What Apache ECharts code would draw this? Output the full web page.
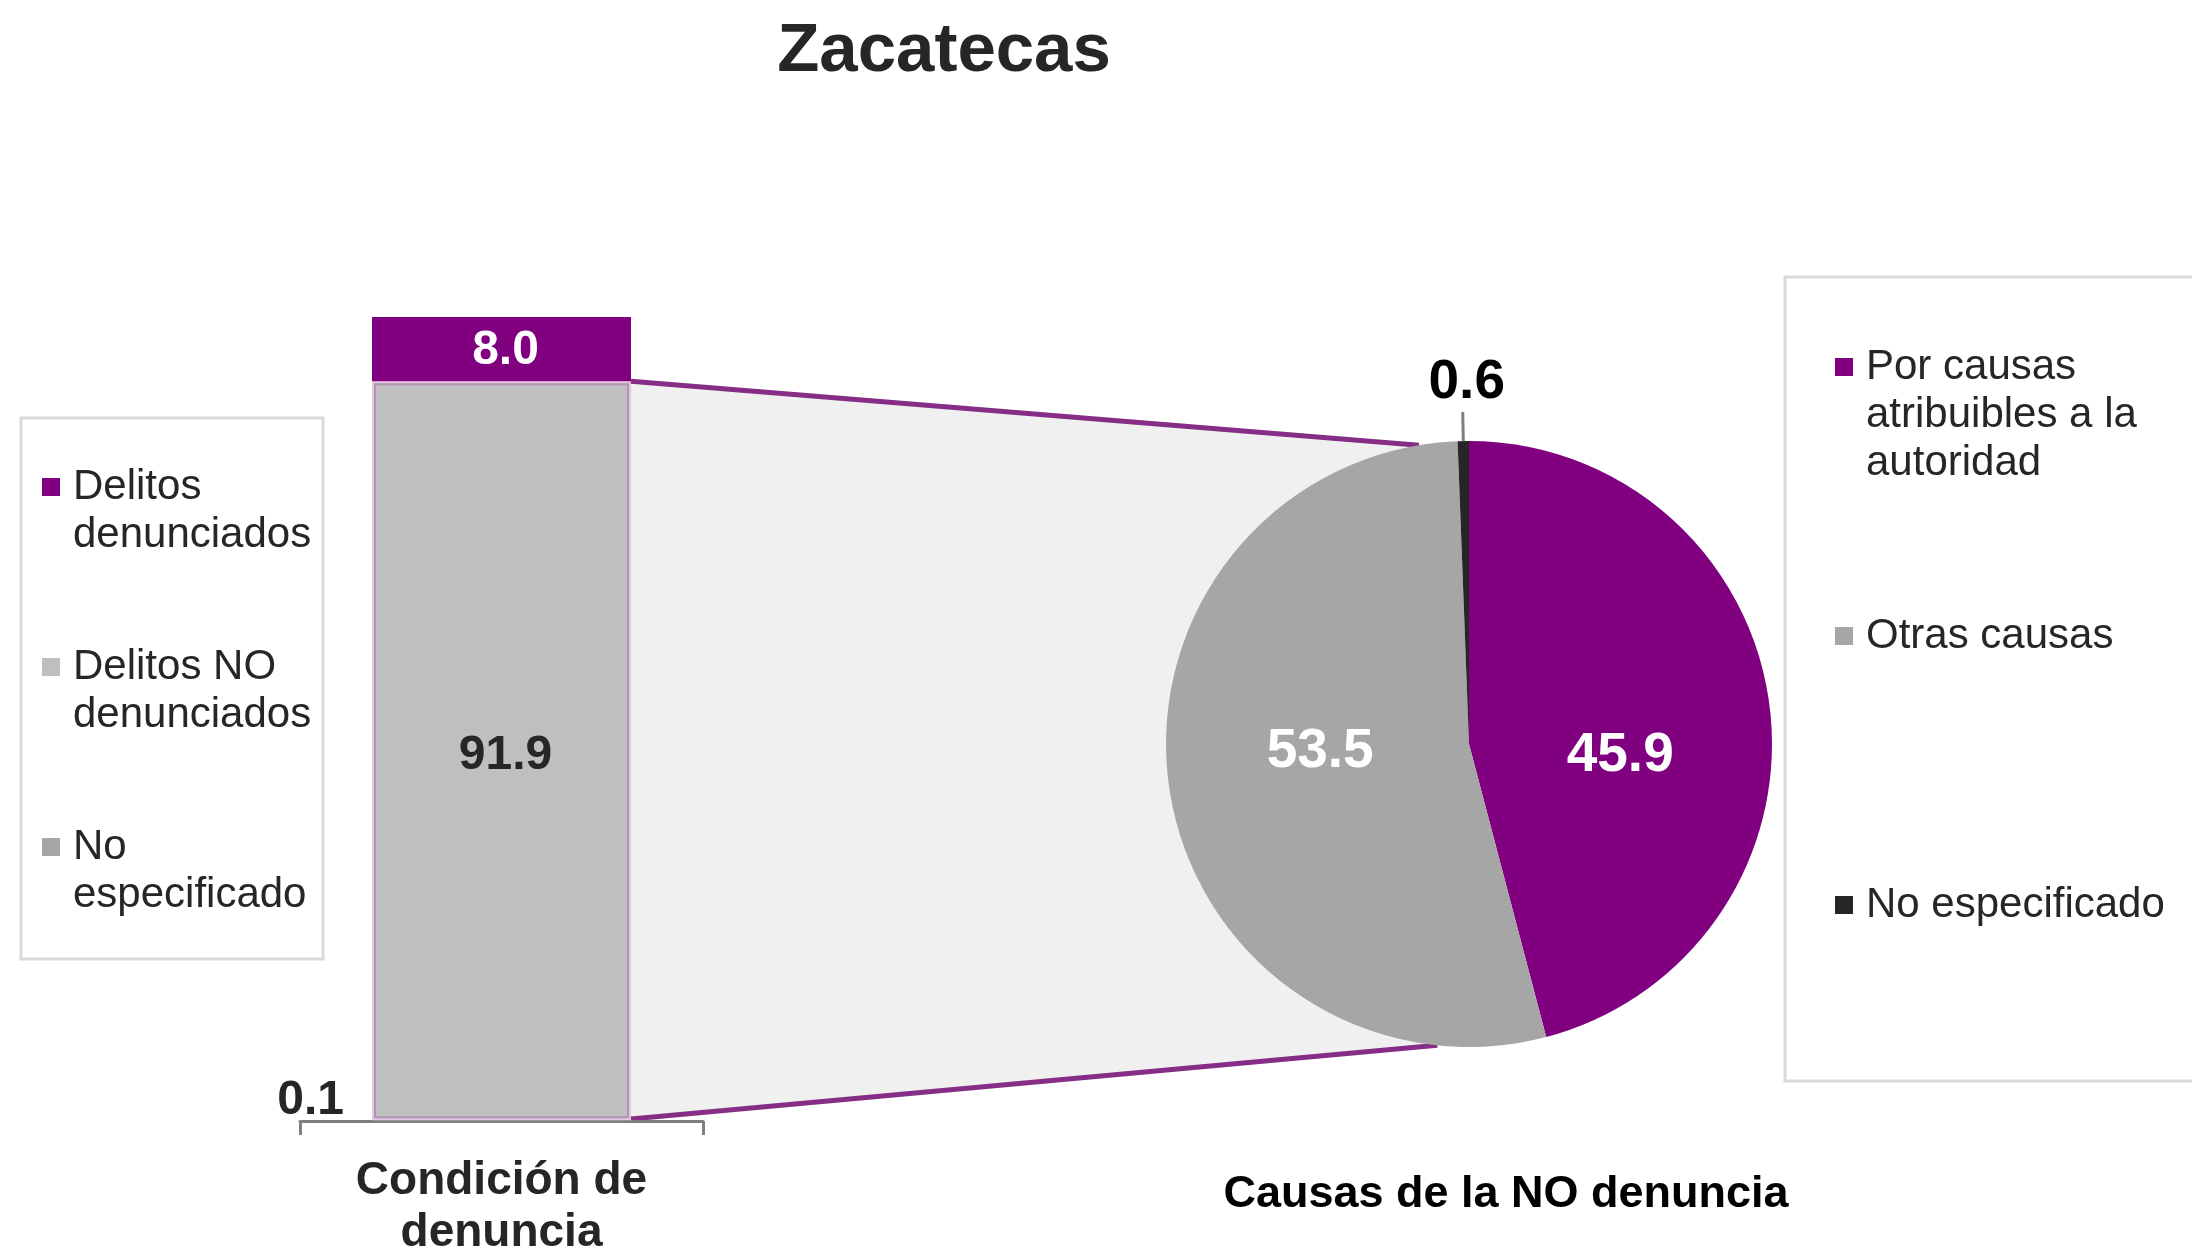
<!DOCTYPE html>
<html>
<head>
<meta charset="utf-8">
<script src="https://cdn.jsdelivr.net/npm/echarts@6/dist/echarts.min.js"></script>
<style>
  html, body { margin: 0; padding: 0; background: #fff; }
  #chart { width: 2192px; height: 1254px; }
</style>
</head>
<body>
<div id="chart"></div>
<script>
// bar: condición de denuncia (top to bottom of the stack)
const barCategories = ['Condición de\ndenuncia'];
const barNames = ['Delitos\ndenunciados', 'Delitos NO\ndenunciados', 'No\nespecificado'];
const barValues = [8.0, 91.9, 0.1];
const barColors = ['#800080', '#bfbfbf', '#a6a6a6'];

// pie: causas de la NO denuncia
const pieNames = ['Por causas\natribuibles a la\nautoridad', 'Otras causas', 'No especificado'];
const pieValues = [45.9, 53.5, 0.6];
const pieColors = ['#800080', '#a6a6a6', '#262626'];

const FONT = '"Liberation Sans", Arial, sans-serif';
const TEXT = '#262626';
const LINE_H = 48;
const BAR_W = 259;
const PIE_CENTER = [1469, 744];
const PIE_R = 303;
// where the connectors touch the pie, degrees left of vertical
const JOIN_TOP = 9.5;
const JOIN_BOTTOM = 6;

// pad legend text with blank lines so the marker sits on the first line
function legendFormatter(names) {
  const maxLines = Math.max(...names.map((n) => n.split('\n').length));
  return (name) => {
    const n = name.split('\n').length;
    return '\n'.repeat(maxLines - 1) + name + '\n'.repeat(maxLines - n);
  };
}

const legendText = {
  fontFamily: FONT,
  fontSize: 42,
  lineHeight: LINE_H,
  color: TEXT,
  padding: [0, 0, 0, 8],
};

// stack from the bottom: No especificado, NO denunciados, denunciados
const stackOrder = [2, 1, 0];
const barSeries = stackOrder.map((i) => {
  const label = {
    show: true,
    position: 'inside',
    fontFamily: FONT,
    fontSize: 48,
    fontWeight: 'bold',
    color: i === 0 ? '#fff' : TEXT,
    offset: i === 1 ? [4, 5] : [4, 2],
    formatter: (p) => p.value.toFixed(1),
  };
  if (i === 2) {
    label.position = 'left';
    label.distance = 28;
    label.offset = [0, -20];
  }
  return {
    name: barNames[i],
    type: 'bar',
    stack: 'denuncia',
    barWidth: BAR_W,
    data: [barValues[i]],
    itemStyle: i === 1
      ? { color: barColors[i], borderColor: 'rgba(128,0,128,0.22)', borderWidth: 4 }
      : { color: barColors[i] },
    label,
    silent: true,
  };
});

const pieSeries = {
  type: 'pie',
  center: PIE_CENTER,
  radius: PIE_R,
  startAngle: 90,
  clockwise: true,
  avoidLabelOverlap: false,
  silent: true,
  label: {
    show: true,
    position: 'inside',
    fontFamily: FONT,
    fontSize: 55,
    fontWeight: 'bold',
    color: '#fff',
    formatter: (p) => p.value.toFixed(1),
  },
  labelLine: { show: false },
  labelLayout: (p) => {
    if (p.dataIndex !== 2) return {};
    const end = p.labelLinePoints[1];
    return {
      x: end[0] + 4,
      y: end[1] - 2,
      align: 'center',
      verticalAlign: 'bottom',
      labelLinePoints: p.labelLinePoints,
    };
  },
  data: pieNames.map((name, i) => {
    const item = { name, value: pieValues[i], itemStyle: { color: pieColors[i] } };
    if (i === 0) item.label = { offset: [-2, 32] };
    if (i === 1) item.label = { offset: [4, -15] };
    if (i === 2) {
      item.label = { position: 'outside', color: '#000', distance: 0 };
      item.labelLine = {
        show: true,
        length: 29,
        length2: 0,
        lineStyle: { color: '#7f7f7f', width: 3 },
      };
    }
    return item;
  }),
};

const option = {
  backgroundColor: '#fff',
  animation: false,
  title: [
    {
      text: 'Zacatecas',
      left: 944,
      top: 17,
      textAlign: 'center',
      padding: 0,
      textStyle: { fontFamily: FONT, fontSize: 69, fontWeight: 'bold', color: TEXT },
    },
    {
      text: 'Causas de la NO denuncia',
      left: 1506,
      top: 1172,
      textAlign: 'center',
      padding: 0,
      textStyle: { fontFamily: FONT, fontSize: 45, fontWeight: 'bold', color: '#000' },
    },
  ],
  legend: [
    {
      orient: 'vertical',
      left: 42,
      top: 415,
      padding: 0,
      itemGap: 36,
      itemWidth: 18,
      itemHeight: 18,
      icon: 'rect',
      selectedMode: false,
      itemStyle: { borderWidth: 0 },
      textStyle: legendText,
      formatter: legendFormatter(barNames),
      data: barNames,
    },
    {
      orient: 'vertical',
      left: 1835,
      top: 247,
      padding: 0,
      itemGap: 29,
      itemWidth: 18,
      itemHeight: 18,
      icon: 'rect',
      selectedMode: false,
      itemStyle: { borderWidth: 0 },
      textStyle: legendText,
      formatter: legendFormatter(pieNames),
      data: pieNames,
    },
  ],
  grid: { left: 300, top: 317, width: 403, height: 804, outerBoundsMode: 'none' },
  xAxis: {
    type: 'category',
    data: barCategories,
    axisLine: { lineStyle: { color: '#7f7f7f', width: 3 } },
    axisTick: { show: true, length: 14, lineStyle: { color: '#7f7f7f', width: 3 } },
    axisLabel: {
      margin: 34,
      fontFamily: FONT,
      fontSize: 46,
      fontWeight: 'bold',
      lineHeight: 52,
      color: TEXT,
    },
  },
  yAxis: { type: 'value', min: 0, max: 100, show: false },
  series: [...barSeries, pieSeries],
};

const chart = echarts.init(document.getElementById('chart'));
chart.setOption(option);

// connector between the bar and the pie, placed from the axes
const stackNo = barValues[1] + barValues[2];
const barTop = chart.convertToPixel({ gridIndex: 0 }, [0, stackNo]);
const barBottom = chart.convertToPixel({ gridIndex: 0 }, [0, 0]);
const rightX = barTop[0] + BAR_W / 2;
const rad = Math.PI / 180;
const pieTop = [
  PIE_CENTER[0] - PIE_R * Math.sin(JOIN_TOP * rad),
  PIE_CENTER[1] - PIE_R * Math.cos(JOIN_TOP * rad),
];
const pieBottom = [
  PIE_CENTER[0] - PIE_R * Math.sin(JOIN_BOTTOM * rad),
  PIE_CENTER[1] + PIE_R * Math.cos(JOIN_BOTTOM * rad),
];

chart.setOption({
  graphic: [
    {
      type: 'rect',
      shape: { x: 21, y: 418, width: 302, height: 541 },
      style: { fill: '#fff', stroke: '#d9d9d9', lineWidth: 3 },
      z: -10,
      silent: true,
    },
    {
      type: 'rect',
      shape: { x: 1785, y: 277, width: 430, height: 804 },
      style: { fill: '#fff', stroke: '#d9d9d9', lineWidth: 3 },
      z: -10,
      silent: true,
    },
    {
      type: 'polygon',
      shape: {
        points: [
          [rightX, barTop[1]],
          pieTop,
          [PIE_CENTER[0], PIE_CENTER[1]],
          pieBottom,
          [rightX, barBottom[1]],
        ],
      },
      style: { fill: '#f0f0f0' },
      z: -5,
      silent: true,
    },
    {
      type: 'polyline',
      shape: { points: [[rightX, barTop[1]], pieTop] },
      style: { stroke: '#862d86', lineWidth: 5 },
      z: -4,
      silent: true,
    },
    {
      type: 'polyline',
      shape: { points: [[rightX, barBottom[1] - 2], pieBottom] },
      style: { stroke: '#862d86', lineWidth: 5 },
      z: -4,
      silent: true,
    },
  ],
});
</script>
</body>
</html>
